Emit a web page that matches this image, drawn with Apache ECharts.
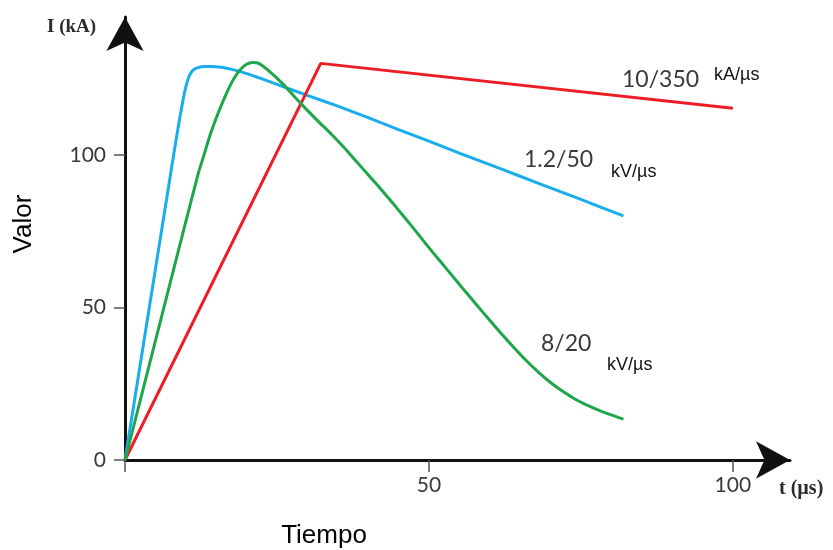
<!DOCTYPE html>
<html>
<head>
<meta charset="utf-8">
<script src="https://cdn.jsdelivr.net/npm/echarts@6/dist/echarts.min.js"></script>
<style>html,body{margin:0;padding:0;background:#fff}#c{width:833px;height:550px}</style>
</head>
<body>
<div id="c"></div>
<script>
// Data (t in µs, value in kA / kV)
const red_10_350 = [[0,0],[32.2,130],[100,115.3]];
const blue_1_2_50 = [[0,0],[4,50],[8,100],[9,112],[9.6,118.5],[10.1,123],[10.6,126],[11.2,127.8],[12,128.6],[13,129],[14.5,129],[16.5,128.5],[19,127.3],[22,125.3],[26,122.4],[30,119.5],[35,116],[40,112.2],[45,108.3],[50,104.5],[55,100.6],[60,96.8],[65,93],[70,89.2],[75,85.4],[82,80]];
const green_8_20 = [[0,0],[4,31.2],[8,62.5],[12,93.5],[13,100],[14,106.5],[15,112],[16,117],[17,121.5],[18,125.3],[19,128],[20,129.7],[21,130.3],[22,130],[24,127],[26,123.2],[28,118.8],[30,114.6],[32,110.6],[34,106.7],[36,102.5],[38,98],[40,93.5],[42,89],[44,84.3],[46,79.5],[48,74.6],[50,69.6],[52,64.8],[54,60],[56,55.2],[58,50.5],[60,45.8],[62,41.2],[64,36.8],[66,32.6],[68,28.8],[70,25.4],[72,22.5],[74,20],[76,18],[78,16.3],[80,14.8],[82,13.4]];
const xTicks = [0,50,100];
const xLabels = [50,100];
const yTicks = [0,50,100];
const labels = {
  red: ['10/350','kA/µs'],
  blue: ['1.2/50','kV/µs'],
  green: ['8/20','kV/µs']
};

const chart = echarts.init(document.getElementById('c'));
const tickFont = 'Lato, "Noto Sans", sans-serif';
const axisLineStyle = {color:'#111', width:3};
chart.setOption({
  animation:false,
  grid:{left:125,right:43,top:17,bottom:90,outerBoundsMode:'none'},
  xAxis:{
    type:'value',min:0,max:109.4,
    axisLine:{show:true,onZero:true,lineStyle:axisLineStyle,symbol:['none','arrow'],symbolSize:[28,34]},
    axisTick:{show:true,customValues:xTicks,length:12,lineStyle:{color:'#555',width:1.5}},
    axisLabel:{customValues:xLabels,margin:15,fontSize:21,color:'#3a3a3a',fontFamily:tickFont},
    splitLine:{show:false}
  },
  yAxis:{
    type:'value',min:0,max:145.2,
    axisLine:{show:true,lineStyle:axisLineStyle,symbol:['none','arrow'],symbolSize:[28,34]},
    axisTick:{show:true,customValues:yTicks,length:11,lineStyle:{color:'#555',width:1.5}},
    axisLabel:{customValues:yTicks,margin:19,fontSize:21,color:'#3a3a3a',fontFamily:tickFont},
    splitLine:{show:false}
  },
  series:[
    {type:'line',data:red_10_350,showSymbol:false,lineStyle:{color:'#ee1c25',width:3},z:3},
    {type:'line',data:blue_1_2_50,showSymbol:false,smooth:0.2,lineStyle:{color:'#1aadee',width:3},z:2},
    {type:'line',data:green_8_20,showSymbol:false,smooth:0.3,lineStyle:{color:'#1ea74a',width:3},z:4}
  ],
  graphic:[
    {type:'text',left:47,top:18,style:{text:'I (kA)',font:'bold 19px "Liberation Serif", serif',fill:'#2b2b2b'}},
    {type:'text',left:779,top:479,style:{text:'t (µs)',font:'bold 20px "Liberation Serif", serif',fill:'#2b2b2b'}},
    {type:'text',x:24,y:224,rotation:Math.PI/2,style:{text:'Valor',font:'26px "Liberation Sans", Arial, sans-serif',fill:'#000',align:'center',verticalAlign:'middle'}},
    {type:'text',x:324,y:536,style:{text:'Tiempo',font:'26px "Liberation Sans", Arial, sans-serif',fill:'#000',align:'center',verticalAlign:'middle'}},
    {type:'text',x:622,y:80,style:{text:labels.red[0],font:'23px '+tickFont,fill:'#3a3a3a',verticalAlign:'middle'}},
    {type:'text',x:714,y:75,style:{text:labels.red[1],font:'18px "Liberation Sans", Arial, sans-serif',fill:'#111',verticalAlign:'middle'}},
    {type:'text',x:524,y:160,style:{text:labels.blue[0],font:'23px '+tickFont,fill:'#3a3a3a',verticalAlign:'middle'}},
    {type:'text',x:611,y:172,style:{text:labels.blue[1],font:'18px "Liberation Sans", Arial, sans-serif',fill:'#111',verticalAlign:'middle'}},
    {type:'text',x:541,y:344,style:{text:labels.green[0],font:'23px '+tickFont,fill:'#3a3a3a',verticalAlign:'middle'}},
    {type:'text',x:607,y:365,style:{text:labels.green[1],font:'18px "Liberation Sans", Arial, sans-serif',fill:'#111',verticalAlign:'middle'}}
  ]
});
</script>
</body>
</html>
